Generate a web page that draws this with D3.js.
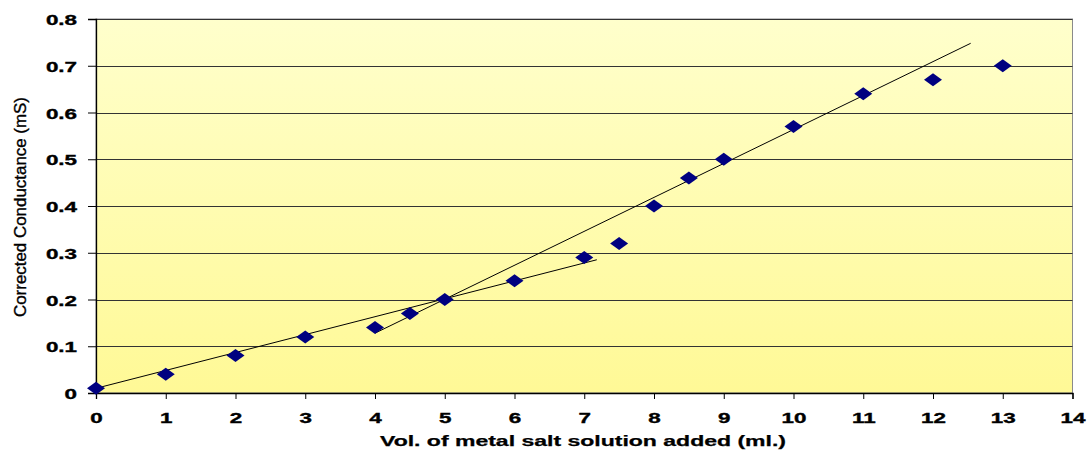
<!DOCTYPE html>
<html>
<head>
<meta charset="utf-8">
<script src="https://cdn.jsdelivr.net/npm/d3@7"></script>
<style>
  html, body { margin: 0; padding: 0; background: #fff; }
  svg { display: block; }
</style>
</head>
<body>
<svg id="chart" width="1088" height="450"></svg>
<script>
// Titration data: volume added (ml) vs corrected conductance (mS)
const volume = [0, 1, 2, 3, 4, 4.5, 5, 6, 7, 7.5, 8, 8.5, 9, 10, 11, 12, 13];
const conductance = [0.01, 0.04, 0.08, 0.12, 0.14, 0.17, 0.20, 0.24, 0.29, 0.32, 0.40, 0.46, 0.50, 0.57, 0.64, 0.67, 0.70];

// Two straight fitted lines meeting near the end point
const lineA_x = [0, 7.18];
const lineA_y = [0.010, 0.285];
const lineB_x = [4.0, 12.54];
const lineB_y = [0.128, 0.748];

const xTicks = d3.range(0, 15, 1);
const yTicks = [0, 0.1, 0.2, 0.3, 0.4, 0.5, 0.6, 0.7, 0.8];

const xTitle = "Vol. of metal salt solution added (ml.)";
const yTitle = "Corrected Conductance (mS)";

const svg = d3.select("#chart");
const plotLeft = 96, plotRight = 1072.5, plotTop = 19, plotBottom = 393;
const stretch = 1.6; // wide lettering of the tick labels

const x = d3.scaleLinear().domain([0, 14]).range([plotLeft, plotRight]);
const y = d3.scaleLinear().domain([0, 0.8]).range([plotBottom, plotTop]);

// Plot-area gradient fill
const defs = svg.append("defs");
const grad = defs.append("linearGradient")
  .attr("id", "plotFill").attr("x1", 0).attr("y1", 0).attr("x2", 0).attr("y2", 1);
grad.append("stop").attr("offset", "0%").attr("stop-color", "#FFFFCC");
grad.append("stop").attr("offset", "100%").attr("stop-color", "#FFF996");

svg.append("rect")
  .attr("x", plotLeft).attr("y", plotTop)
  .attr("width", plotRight - plotLeft).attr("height", plotBottom - plotTop)
  .attr("fill", "url(#plotFill)")
  .attr("stroke", "#8a8a8a").attr("stroke-width", 1);

// Horizontal gridlines
svg.append("g")
  .selectAll("line")
  .data(yTicks.slice(1))
  .join("line")
  .attr("x1", plotLeft).attr("x2", plotRight)
  .attr("y1", d => Math.round(y(d)) + 0.5).attr("y2", d => Math.round(y(d)) + 0.5)
  .attr("stroke", "#333").attr("stroke-width", 1);

// Axes
function styleAxis(g) {
  g.attr("font-family", "Liberation Sans, Arial, sans-serif")
   .attr("font-size", 14)
   .attr("font-weight", "bold");
  g.select(".domain").attr("stroke", "#000").attr("stroke-width", 1.3);
  g.selectAll(".tick line").attr("stroke", "#000");
  g.selectAll(".tick text").attr("fill", "#000")
   .attr("stroke", "#000").attr("stroke-width", 0.35);
}

const yAxis = svg.append("g")
  .attr("transform", `translate(${plotLeft},0)`)
  .call(d3.axisLeft(y).tickValues(yTicks).tickSize(8).tickPadding(11)
    .tickFormat(d => d === 0 ? "0" : d3.format(".1f")(d)))
  .call(styleAxis);
yAxis.selectAll(".tick text")
  .attr("x", -19 / stretch)
  .attr("dy", "0.4em")
  .attr("transform", `scale(${stretch},1)`);

const xAxis = svg.append("g")
  .attr("transform", `translate(0,${plotBottom})`)
  .call(d3.axisBottom(x).tickValues(xTicks).tickSize(6).tickPadding(14).tickFormat(d3.format("d")))
  .call(styleAxis);
xAxis.selectAll(".tick text")
  .attr("transform", `scale(${stretch},1)`);

// Fitted lines
const line = d3.line().x(d => x(d[0])).y(d => y(d[1]));
[[lineA_x, lineA_y], [lineB_x, lineB_y]].forEach(([xs, ys]) => {
  svg.append("path")
    .datum(xs.map((v, i) => [v, ys[i]]))
    .attr("d", line)
    .attr("fill", "none")
    .attr("stroke", "#000")
    .attr("stroke-width", 1);
});

// Diamond markers
const hw = 9, hh = 6.5;
svg.append("g")
  .selectAll("path")
  .data(volume.map((v, i) => [v, conductance[i]]))
  .join("path")
  .attr("d", d => {
    const cx = x(d[0]), cy = y(d[1]);
    return `M${cx},${cy - hh}L${cx + hw},${cy}L${cx},${cy + hh}L${cx - hw},${cy}Z`;
  })
  .attr("fill", "#000080");

// Axis titles
svg.append("text")
  .attr("x", 583)
  .attr("y", 446)
  .attr("text-anchor", "middle")
  .attr("font-family", "Liberation Sans, Arial, sans-serif")
  .attr("font-weight", "bold")
  .attr("font-size", 14)
  .attr("stroke", "#000").attr("stroke-width", 0.25)
  .attr("textLength", 406)
  .attr("lengthAdjust", "spacingAndGlyphs")
  .text(xTitle);

svg.append("text")
  .attr("transform", "translate(26,207) rotate(-90)")
  .attr("text-anchor", "middle")
  .attr("font-family", "Liberation Sans, Arial, sans-serif")
  .attr("font-size", 16)
  .attr("stroke", "#000").attr("stroke-width", 0.35)
  .attr("textLength", 220)
  .attr("lengthAdjust", "spacingAndGlyphs")
  .text(yTitle);
</script>
</body>
</html>
